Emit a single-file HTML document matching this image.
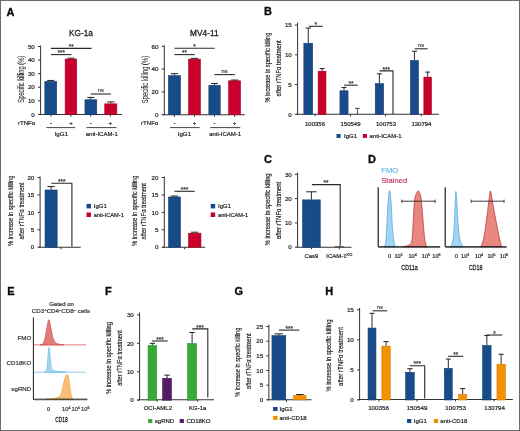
<!DOCTYPE html>
<html><head><meta charset="utf-8"><style>
html,body{margin:0;padding:0;background:#fff;}
body{width:520px;height:431px;overflow:hidden;}
svg{display:block;will-change:transform;filter:blur(0.3px);}
text{-webkit-font-smoothing:antialiased;}
</style></head><body>
<svg width="520" height="431" viewBox="0 0 520 431">
<rect x="0" y="0" width="520" height="431" fill="#fff"/>
<text x="6.40" y="15.80" font-size="11" text-anchor="start" fill="#0a0a0a" font-weight="bold" font-family="Liberation Sans, sans-serif"  stroke="#0a0a0a" stroke-width="0.3">A</text>
<text x="263.90" y="15.40" font-size="11" text-anchor="start" fill="#0a0a0a" font-weight="bold" font-family="Liberation Sans, sans-serif"  stroke="#0a0a0a" stroke-width="0.3">B</text>
<text x="263.90" y="163.20" font-size="11" text-anchor="start" fill="#0a0a0a" font-weight="bold" font-family="Liberation Sans, sans-serif"  stroke="#0a0a0a" stroke-width="0.3">C</text>
<text x="367.90" y="163.20" font-size="11" text-anchor="start" fill="#0a0a0a" font-weight="bold" font-family="Liberation Sans, sans-serif"  stroke="#0a0a0a" stroke-width="0.3">D</text>
<text x="7.20" y="294.90" font-size="11" text-anchor="start" fill="#0a0a0a" font-weight="bold" font-family="Liberation Sans, sans-serif"  stroke="#0a0a0a" stroke-width="0.3">E</text>
<text x="105.00" y="294.90" font-size="11" text-anchor="start" fill="#0a0a0a" font-weight="bold" font-family="Liberation Sans, sans-serif"  stroke="#0a0a0a" stroke-width="0.3">F</text>
<text x="234.50" y="294.90" font-size="11" text-anchor="start" fill="#0a0a0a" font-weight="bold" font-family="Liberation Sans, sans-serif"  stroke="#0a0a0a" stroke-width="0.3">G</text>
<text x="325.20" y="294.90" font-size="11" text-anchor="start" fill="#0a0a0a" font-weight="bold" font-family="Liberation Sans, sans-serif"  stroke="#0a0a0a" stroke-width="0.3">H</text>
<text x="81.00" y="36.00" font-size="8.3" text-anchor="middle" fill="#1e1e1e" font-weight="normal" font-family="Liberation Sans, sans-serif" stroke="#1e1e1e" stroke-width="0.3" >KG-1a</text>
<line x1="40.60" y1="45.50" x2="40.60" y2="114.40" stroke="#333333" stroke-width="1.0"/>
<line x1="38.00" y1="114.40" x2="40.60" y2="114.40" stroke="#333333" stroke-width="1.0"/>
<text x="34.80" y="116.63" font-size="6.2" text-anchor="end" fill="#1e1e1e" font-weight="normal" font-family="Liberation Sans, sans-serif" stroke="#1e1e1e" stroke-width="0.2" >0</text>
<line x1="38.00" y1="100.82" x2="40.60" y2="100.82" stroke="#333333" stroke-width="1.0"/>
<text x="34.80" y="103.05" font-size="6.2" text-anchor="end" fill="#1e1e1e" font-weight="normal" font-family="Liberation Sans, sans-serif" stroke="#1e1e1e" stroke-width="0.2" >10</text>
<line x1="38.00" y1="87.24" x2="40.60" y2="87.24" stroke="#333333" stroke-width="1.0"/>
<text x="34.80" y="89.47" font-size="6.2" text-anchor="end" fill="#1e1e1e" font-weight="normal" font-family="Liberation Sans, sans-serif" stroke="#1e1e1e" stroke-width="0.2" >20</text>
<line x1="38.00" y1="73.66" x2="40.60" y2="73.66" stroke="#333333" stroke-width="1.0"/>
<text x="34.80" y="75.89" font-size="6.2" text-anchor="end" fill="#1e1e1e" font-weight="normal" font-family="Liberation Sans, sans-serif" stroke="#1e1e1e" stroke-width="0.2" >30</text>
<line x1="38.00" y1="60.08" x2="40.60" y2="60.08" stroke="#333333" stroke-width="1.0"/>
<text x="34.80" y="62.31" font-size="6.2" text-anchor="end" fill="#1e1e1e" font-weight="normal" font-family="Liberation Sans, sans-serif" stroke="#1e1e1e" stroke-width="0.2" >40</text>
<line x1="38.00" y1="46.50" x2="40.60" y2="46.50" stroke="#333333" stroke-width="1.0"/>
<text x="34.80" y="48.73" font-size="6.2" text-anchor="end" fill="#1e1e1e" font-weight="normal" font-family="Liberation Sans, sans-serif" stroke="#1e1e1e" stroke-width="0.2" >50</text>
<line x1="38.80" y1="114.40" x2="122.00" y2="114.40" stroke="#333333" stroke-width="1.05"/>
<line x1="50.90" y1="114.40" x2="50.90" y2="116.40" stroke="#333333" stroke-width="1.05"/>
<line x1="70.90" y1="114.40" x2="70.90" y2="116.40" stroke="#333333" stroke-width="1.05"/>
<line x1="90.70" y1="114.40" x2="90.70" y2="116.40" stroke="#333333" stroke-width="1.05"/>
<line x1="110.30" y1="114.40" x2="110.30" y2="116.40" stroke="#333333" stroke-width="1.05"/>
<rect x="44.85" y="81.43" width="11.80" height="32.97" fill="#174b8a" stroke="#123d70" stroke-width="0.6"/>
<line x1="50.75" y1="81.13" x2="50.75" y2="80.45" stroke="#222" stroke-width="0.95"/>
<line x1="47.19" y1="80.45" x2="54.31" y2="80.45" stroke="#222" stroke-width="1.0"/>
<rect x="65.15" y="59.02" width="11.60" height="55.38" fill="#c9002b" stroke="#a80024" stroke-width="0.6"/>
<line x1="70.95" y1="58.72" x2="70.95" y2="58.18" stroke="#222" stroke-width="0.95"/>
<line x1="67.45" y1="58.18" x2="74.45" y2="58.18" stroke="#222" stroke-width="1.0"/>
<rect x="84.95" y="99.76" width="11.80" height="14.64" fill="#174b8a" stroke="#123d70" stroke-width="0.6"/>
<line x1="90.85" y1="99.46" x2="90.85" y2="97.43" stroke="#222" stroke-width="0.95"/>
<line x1="87.29" y1="97.43" x2="94.41" y2="97.43" stroke="#222" stroke-width="1.0"/>
<rect x="104.75" y="103.84" width="12.10" height="10.56" fill="#c9002b" stroke="#a80024" stroke-width="0.6"/>
<line x1="110.80" y1="103.54" x2="110.80" y2="101.91" stroke="#222" stroke-width="0.95"/>
<line x1="107.16" y1="101.91" x2="114.44" y2="101.91" stroke="#222" stroke-width="1.0"/>
<line x1="50.90" y1="48.40" x2="91.50" y2="48.40" stroke="#2a2a2a" stroke-width="1.1"/>
<text x="71.20" y="49.10" font-size="6.4" text-anchor="middle" fill="#333" font-weight="normal" font-family="Liberation Sans, sans-serif" stroke="#333" stroke-width="0.2" >**</text>
<line x1="50.90" y1="54.60" x2="71.40" y2="54.60" stroke="#2a2a2a" stroke-width="1.1"/>
<text x="61.15" y="55.30" font-size="6.4" text-anchor="middle" fill="#333" font-weight="normal" font-family="Liberation Sans, sans-serif" stroke="#333" stroke-width="0.2" >***</text>
<line x1="90.70" y1="94.00" x2="111.00" y2="94.00" stroke="#2a2a2a" stroke-width="1.1"/>
<text x="100.85" y="92.30" font-size="5.9" text-anchor="middle" fill="#444" font-weight="normal" font-family="Liberation Sans, sans-serif" stroke="#444" stroke-width="0.2" >ns</text>
<g transform="translate(21.30,79.20) rotate(-90) scale(1.0,1)"><text x="0" y="3.06" font-size="8.5" text-anchor="middle" fill="#1e1e1e" font-family="Liberation Sans, sans-serif" stroke="#1e1e1e" stroke-width="0.06" textLength="47" lengthAdjust="spacingAndGlyphs">Specific killing (%)</text></g>
<text x="35.30" y="125.40" font-size="6.1" text-anchor="end" fill="#1e1e1e" font-weight="normal" font-family="Liberation Sans, sans-serif" stroke="#1e1e1e" stroke-width="0.2" >rTNF&#945;</text>
<text x="50.90" y="125.20" font-size="6" text-anchor="middle" fill="#1e1e1e" font-weight="normal" font-family="Liberation Sans, sans-serif" stroke="#1e1e1e" stroke-width="0.2" >-</text>
<text x="70.90" y="125.20" font-size="6" text-anchor="middle" fill="#1e1e1e" font-weight="normal" font-family="Liberation Sans, sans-serif" stroke="#1e1e1e" stroke-width="0.2" >+</text>
<text x="90.70" y="125.20" font-size="6" text-anchor="middle" fill="#1e1e1e" font-weight="normal" font-family="Liberation Sans, sans-serif" stroke="#1e1e1e" stroke-width="0.2" >-</text>
<text x="110.30" y="125.20" font-size="6" text-anchor="middle" fill="#1e1e1e" font-weight="normal" font-family="Liberation Sans, sans-serif" stroke="#1e1e1e" stroke-width="0.2" >+</text>
<line x1="46.40" y1="127.60" x2="75.20" y2="127.60" stroke="#444" stroke-width="1.0"/>
<line x1="86.50" y1="127.60" x2="116.50" y2="127.60" stroke="#444" stroke-width="1.0"/>
<text x="61.20" y="136.00" font-size="6.2" text-anchor="middle" fill="#1e1e1e" font-weight="normal" font-family="Liberation Sans, sans-serif" stroke="#1e1e1e" stroke-width="0.2" >IgG1</text>
<text x="101.80" y="136.00" font-size="6.0" text-anchor="middle" fill="#1e1e1e" font-weight="normal" font-family="Liberation Sans, sans-serif" stroke="#1e1e1e" stroke-width="0.2" >anti-ICAM-1</text>
<text x="204.30" y="36.00" font-size="8.3" text-anchor="middle" fill="#1e1e1e" font-weight="normal" font-family="Liberation Sans, sans-serif" stroke="#1e1e1e" stroke-width="0.3" >MV4-11</text>
<line x1="164.30" y1="45.50" x2="164.30" y2="114.70" stroke="#333333" stroke-width="1.0"/>
<line x1="161.70" y1="114.70" x2="164.30" y2="114.70" stroke="#333333" stroke-width="1.0"/>
<text x="158.50" y="116.93" font-size="6.2" text-anchor="end" fill="#1e1e1e" font-weight="normal" font-family="Liberation Sans, sans-serif" stroke="#1e1e1e" stroke-width="0.2" >0</text>
<line x1="161.70" y1="91.90" x2="164.30" y2="91.90" stroke="#333333" stroke-width="1.0"/>
<text x="158.50" y="94.13" font-size="6.2" text-anchor="end" fill="#1e1e1e" font-weight="normal" font-family="Liberation Sans, sans-serif" stroke="#1e1e1e" stroke-width="0.2" >20</text>
<line x1="161.70" y1="69.10" x2="164.30" y2="69.10" stroke="#333333" stroke-width="1.0"/>
<text x="158.50" y="71.33" font-size="6.2" text-anchor="end" fill="#1e1e1e" font-weight="normal" font-family="Liberation Sans, sans-serif" stroke="#1e1e1e" stroke-width="0.2" >40</text>
<line x1="161.70" y1="46.30" x2="164.30" y2="46.30" stroke="#333333" stroke-width="1.0"/>
<text x="158.50" y="48.53" font-size="6.2" text-anchor="end" fill="#1e1e1e" font-weight="normal" font-family="Liberation Sans, sans-serif" stroke="#1e1e1e" stroke-width="0.2" >60</text>
<line x1="162.60" y1="114.70" x2="244.80" y2="114.70" stroke="#333333" stroke-width="1.05"/>
<line x1="174.40" y1="114.70" x2="174.40" y2="116.70" stroke="#333333" stroke-width="1.05"/>
<line x1="194.50" y1="114.70" x2="194.50" y2="116.70" stroke="#333333" stroke-width="1.05"/>
<line x1="214.50" y1="114.70" x2="214.50" y2="116.70" stroke="#333333" stroke-width="1.05"/>
<line x1="234.60" y1="114.70" x2="234.60" y2="116.70" stroke="#333333" stroke-width="1.05"/>
<rect x="168.45" y="75.67" width="12.00" height="39.03" fill="#174b8a" stroke="#123d70" stroke-width="0.6"/>
<line x1="174.45" y1="75.37" x2="174.45" y2="73.66" stroke="#222" stroke-width="0.95"/>
<line x1="170.84" y1="73.66" x2="178.06" y2="73.66" stroke="#222" stroke-width="1.0"/>
<rect x="188.55" y="59.14" width="11.90" height="55.56" fill="#c9002b" stroke="#a80024" stroke-width="0.6"/>
<line x1="194.50" y1="58.84" x2="194.50" y2="58.38" stroke="#222" stroke-width="0.95"/>
<line x1="190.92" y1="58.38" x2="198.08" y2="58.38" stroke="#222" stroke-width="1.0"/>
<rect x="208.85" y="85.36" width="11.40" height="29.34" fill="#174b8a" stroke="#123d70" stroke-width="0.6"/>
<line x1="214.55" y1="85.06" x2="214.55" y2="83.46" stroke="#222" stroke-width="0.95"/>
<line x1="211.11" y1="83.46" x2="217.99" y2="83.46" stroke="#222" stroke-width="1.0"/>
<rect x="228.65" y="80.80" width="11.90" height="33.90" fill="#c9002b" stroke="#a80024" stroke-width="0.6"/>
<line x1="234.60" y1="80.50" x2="234.60" y2="80.04" stroke="#222" stroke-width="0.95"/>
<line x1="231.02" y1="80.04" x2="238.18" y2="80.04" stroke="#222" stroke-width="1.0"/>
<line x1="174.40" y1="48.30" x2="214.70" y2="48.30" stroke="#2a2a2a" stroke-width="1.1"/>
<text x="194.55" y="49.00" font-size="6.4" text-anchor="middle" fill="#333" font-weight="normal" font-family="Liberation Sans, sans-serif" stroke="#333" stroke-width="0.2" >*</text>
<line x1="174.40" y1="54.60" x2="194.70" y2="54.60" stroke="#2a2a2a" stroke-width="1.1"/>
<text x="184.55" y="55.30" font-size="6.4" text-anchor="middle" fill="#333" font-weight="normal" font-family="Liberation Sans, sans-serif" stroke="#333" stroke-width="0.2" >**</text>
<line x1="214.50" y1="74.60" x2="234.80" y2="74.60" stroke="#2a2a2a" stroke-width="1.1"/>
<text x="224.65" y="72.90" font-size="5.9" text-anchor="middle" fill="#444" font-weight="normal" font-family="Liberation Sans, sans-serif" stroke="#444" stroke-width="0.2" >ns</text>
<g transform="translate(144.50,79.50) rotate(-90) scale(1.0,1)"><text x="0" y="3.06" font-size="8.5" text-anchor="middle" fill="#1e1e1e" font-family="Liberation Sans, sans-serif" stroke="#1e1e1e" stroke-width="0.06" textLength="47.3" lengthAdjust="spacingAndGlyphs">Specific killing (%)</text></g>
<text x="158.40" y="125.40" font-size="6.1" text-anchor="end" fill="#1e1e1e" font-weight="normal" font-family="Liberation Sans, sans-serif" stroke="#1e1e1e" stroke-width="0.2" >rTNF&#945;</text>
<text x="174.40" y="125.20" font-size="6" text-anchor="middle" fill="#1e1e1e" font-weight="normal" font-family="Liberation Sans, sans-serif" stroke="#1e1e1e" stroke-width="0.2" >-</text>
<text x="194.50" y="125.20" font-size="6" text-anchor="middle" fill="#1e1e1e" font-weight="normal" font-family="Liberation Sans, sans-serif" stroke="#1e1e1e" stroke-width="0.2" >+</text>
<text x="214.50" y="125.20" font-size="6" text-anchor="middle" fill="#1e1e1e" font-weight="normal" font-family="Liberation Sans, sans-serif" stroke="#1e1e1e" stroke-width="0.2" >-</text>
<text x="234.60" y="125.20" font-size="6" text-anchor="middle" fill="#1e1e1e" font-weight="normal" font-family="Liberation Sans, sans-serif" stroke="#1e1e1e" stroke-width="0.2" >+</text>
<line x1="170.00" y1="127.60" x2="199.70" y2="127.60" stroke="#444" stroke-width="1.0"/>
<line x1="210.20" y1="127.60" x2="240.30" y2="127.60" stroke="#444" stroke-width="1.0"/>
<text x="184.40" y="136.00" font-size="6.2" text-anchor="middle" fill="#1e1e1e" font-weight="normal" font-family="Liberation Sans, sans-serif" stroke="#1e1e1e" stroke-width="0.2" >IgG1</text>
<text x="225.20" y="136.00" font-size="6.0" text-anchor="middle" fill="#1e1e1e" font-weight="normal" font-family="Liberation Sans, sans-serif" stroke="#1e1e1e" stroke-width="0.2" >anti-ICAM-1</text>
<line x1="40.10" y1="176.50" x2="40.10" y2="247.20" stroke="#333333" stroke-width="1.0"/>
<line x1="37.50" y1="247.20" x2="40.10" y2="247.20" stroke="#333333" stroke-width="1.0"/>
<text x="34.30" y="249.43" font-size="6.2" text-anchor="end" fill="#1e1e1e" font-weight="normal" font-family="Liberation Sans, sans-serif" stroke="#1e1e1e" stroke-width="0.2" >0</text>
<line x1="37.50" y1="229.77" x2="40.10" y2="229.77" stroke="#333333" stroke-width="1.0"/>
<text x="34.30" y="232.01" font-size="6.2" text-anchor="end" fill="#1e1e1e" font-weight="normal" font-family="Liberation Sans, sans-serif" stroke="#1e1e1e" stroke-width="0.2" >5</text>
<line x1="37.50" y1="212.35" x2="40.10" y2="212.35" stroke="#333333" stroke-width="1.0"/>
<text x="34.30" y="214.58" font-size="6.2" text-anchor="end" fill="#1e1e1e" font-weight="normal" font-family="Liberation Sans, sans-serif" stroke="#1e1e1e" stroke-width="0.2" >10</text>
<line x1="37.50" y1="194.92" x2="40.10" y2="194.92" stroke="#333333" stroke-width="1.0"/>
<text x="34.30" y="197.16" font-size="6.2" text-anchor="end" fill="#1e1e1e" font-weight="normal" font-family="Liberation Sans, sans-serif" stroke="#1e1e1e" stroke-width="0.2" >15</text>
<line x1="37.50" y1="177.50" x2="40.10" y2="177.50" stroke="#333333" stroke-width="1.0"/>
<text x="34.30" y="179.73" font-size="6.2" text-anchor="end" fill="#1e1e1e" font-weight="normal" font-family="Liberation Sans, sans-serif" stroke="#1e1e1e" stroke-width="0.2" >20</text>
<line x1="38.80" y1="247.20" x2="80.70" y2="247.20" stroke="#333333" stroke-width="1.05"/>
<line x1="61.00" y1="247.20" x2="61.00" y2="249.20" stroke="#333333" stroke-width="1.05"/>
<rect x="45.05" y="190.00" width="12.10" height="57.20" fill="#174b8a" stroke="#123d70" stroke-width="0.6"/>
<line x1="51.10" y1="189.70" x2="51.10" y2="186.56" stroke="#222" stroke-width="0.95"/>
<line x1="47.46" y1="186.56" x2="54.74" y2="186.56" stroke="#222" stroke-width="1.0"/>
<polyline points="51.40,183.30 71.90,183.30 71.90,246.50" fill="none" stroke="#2a2a2a" stroke-width="1.1"/>
<text x="61.65" y="184.00" font-size="6.4" text-anchor="middle" fill="#333" font-weight="normal" font-family="Liberation Sans, sans-serif" stroke="#333" stroke-width="0.2" >***</text>
<rect x="86.50" y="203.90" width="4.50" height="4.50" fill="#174b8a"/>
<text x="93.80" y="208.30" font-size="6" text-anchor="start" fill="#1e1e1e" font-weight="normal" font-family="Liberation Sans, sans-serif" stroke="#1e1e1e" stroke-width="0.2" >IgG1</text>
<rect x="86.50" y="212.50" width="4.50" height="4.50" fill="#c9002b"/>
<text x="93.80" y="216.90" font-size="5.64" text-anchor="start" fill="#1e1e1e" font-weight="normal" font-family="Liberation Sans, sans-serif" stroke="#1e1e1e" stroke-width="0.2" >anti-ICAM-1</text>
<g transform="translate(9.90,210.80) rotate(-90) scale(1.0,1)"><text x="0" y="2.84" font-size="7.9" text-anchor="middle" fill="#1e1e1e" font-family="Liberation Sans, sans-serif" stroke="#1e1e1e" stroke-width="0.18" textLength="70.4" lengthAdjust="spacingAndGlyphs">% increase in specific killing</text></g>
<g transform="translate(21.20,211.10) rotate(-90) scale(1.0,1)"><text x="0" y="2.84" font-size="7.9" text-anchor="middle" fill="#1e1e1e" font-family="Liberation Sans, sans-serif" stroke="#1e1e1e" stroke-width="0.18" textLength="57" lengthAdjust="spacingAndGlyphs">after rTNF&#945; treatment</text></g>
<line x1="164.30" y1="176.50" x2="164.30" y2="247.20" stroke="#333333" stroke-width="1.0"/>
<line x1="161.70" y1="247.20" x2="164.30" y2="247.20" stroke="#333333" stroke-width="1.0"/>
<text x="158.50" y="249.43" font-size="6.2" text-anchor="end" fill="#1e1e1e" font-weight="normal" font-family="Liberation Sans, sans-serif" stroke="#1e1e1e" stroke-width="0.2" >0</text>
<line x1="161.70" y1="229.77" x2="164.30" y2="229.77" stroke="#333333" stroke-width="1.0"/>
<text x="158.50" y="232.01" font-size="6.2" text-anchor="end" fill="#1e1e1e" font-weight="normal" font-family="Liberation Sans, sans-serif" stroke="#1e1e1e" stroke-width="0.2" >5</text>
<line x1="161.70" y1="212.35" x2="164.30" y2="212.35" stroke="#333333" stroke-width="1.0"/>
<text x="158.50" y="214.58" font-size="6.2" text-anchor="end" fill="#1e1e1e" font-weight="normal" font-family="Liberation Sans, sans-serif" stroke="#1e1e1e" stroke-width="0.2" >10</text>
<line x1="161.70" y1="194.92" x2="164.30" y2="194.92" stroke="#333333" stroke-width="1.0"/>
<text x="158.50" y="197.16" font-size="6.2" text-anchor="end" fill="#1e1e1e" font-weight="normal" font-family="Liberation Sans, sans-serif" stroke="#1e1e1e" stroke-width="0.2" >15</text>
<line x1="161.70" y1="177.50" x2="164.30" y2="177.50" stroke="#333333" stroke-width="1.0"/>
<text x="158.50" y="179.73" font-size="6.2" text-anchor="end" fill="#1e1e1e" font-weight="normal" font-family="Liberation Sans, sans-serif" stroke="#1e1e1e" stroke-width="0.2" >20</text>
<line x1="162.60" y1="247.20" x2="205.20" y2="247.20" stroke="#333333" stroke-width="1.05"/>
<line x1="184.60" y1="247.20" x2="184.60" y2="249.20" stroke="#333333" stroke-width="1.05"/>
<rect x="168.55" y="196.97" width="11.90" height="50.23" fill="#174b8a" stroke="#123d70" stroke-width="0.6"/>
<line x1="174.50" y1="196.67" x2="174.50" y2="195.97" stroke="#222" stroke-width="0.95"/>
<line x1="170.92" y1="195.97" x2="178.08" y2="195.97" stroke="#222" stroke-width="1.0"/>
<rect x="188.55" y="233.21" width="12.40" height="13.99" fill="#c9002b" stroke="#a80024" stroke-width="0.6"/>
<line x1="194.75" y1="232.91" x2="194.75" y2="232.21" stroke="#222" stroke-width="0.95"/>
<line x1="191.03" y1="232.21" x2="198.47" y2="232.21" stroke="#222" stroke-width="1.0"/>
<line x1="174.40" y1="191.30" x2="194.70" y2="191.30" stroke="#2a2a2a" stroke-width="1.1"/>
<text x="184.55" y="192.00" font-size="6.4" text-anchor="middle" fill="#333" font-weight="normal" font-family="Liberation Sans, sans-serif" stroke="#333" stroke-width="0.2" >***</text>
<rect x="210.70" y="203.90" width="4.50" height="4.50" fill="#174b8a"/>
<text x="218.00" y="208.30" font-size="6" text-anchor="start" fill="#1e1e1e" font-weight="normal" font-family="Liberation Sans, sans-serif" stroke="#1e1e1e" stroke-width="0.2" >IgG1</text>
<rect x="210.70" y="212.50" width="4.50" height="4.50" fill="#c9002b"/>
<text x="218.00" y="216.90" font-size="5.64" text-anchor="start" fill="#1e1e1e" font-weight="normal" font-family="Liberation Sans, sans-serif" stroke="#1e1e1e" stroke-width="0.2" >anti-ICAM-1</text>
<g transform="translate(134.10,210.80) rotate(-90) scale(1.0,1)"><text x="0" y="2.84" font-size="7.9" text-anchor="middle" fill="#1e1e1e" font-family="Liberation Sans, sans-serif" stroke="#1e1e1e" stroke-width="0.18" textLength="70.4" lengthAdjust="spacingAndGlyphs">% increase in specific killing</text></g>
<g transform="translate(143.60,211.30) rotate(-90) scale(1.0,1)"><text x="0" y="2.84" font-size="7.9" text-anchor="middle" fill="#1e1e1e" font-family="Liberation Sans, sans-serif" stroke="#1e1e1e" stroke-width="0.18" textLength="56.6" lengthAdjust="spacingAndGlyphs">after rTNF&#945; treatment</text></g>
<line x1="297.60" y1="22.60" x2="297.60" y2="114.30" stroke="#333333" stroke-width="1.0"/>
<line x1="295.00" y1="114.30" x2="297.60" y2="114.30" stroke="#333333" stroke-width="1.0"/>
<text x="291.80" y="116.53" font-size="6.2" text-anchor="end" fill="#1e1e1e" font-weight="normal" font-family="Liberation Sans, sans-serif" stroke="#1e1e1e" stroke-width="0.2" >0</text>
<line x1="295.00" y1="84.56" x2="297.60" y2="84.56" stroke="#333333" stroke-width="1.0"/>
<text x="291.80" y="86.80" font-size="6.2" text-anchor="end" fill="#1e1e1e" font-weight="normal" font-family="Liberation Sans, sans-serif" stroke="#1e1e1e" stroke-width="0.2" >5</text>
<line x1="295.00" y1="54.83" x2="297.60" y2="54.83" stroke="#333333" stroke-width="1.0"/>
<text x="291.80" y="57.06" font-size="6.2" text-anchor="end" fill="#1e1e1e" font-weight="normal" font-family="Liberation Sans, sans-serif" stroke="#1e1e1e" stroke-width="0.2" >10</text>
<line x1="295.00" y1="25.09" x2="297.60" y2="25.09" stroke="#333333" stroke-width="1.0"/>
<text x="291.80" y="27.33" font-size="6.2" text-anchor="end" fill="#1e1e1e" font-weight="normal" font-family="Liberation Sans, sans-serif" stroke="#1e1e1e" stroke-width="0.2" >15</text>
<line x1="296.00" y1="114.30" x2="438.90" y2="114.30" stroke="#333333" stroke-width="1.05"/>
<line x1="315.00" y1="114.30" x2="315.00" y2="116.30" stroke="#333333" stroke-width="1.05"/>
<line x1="350.50" y1="114.30" x2="350.50" y2="116.30" stroke="#333333" stroke-width="1.05"/>
<line x1="385.50" y1="114.30" x2="385.50" y2="116.30" stroke="#333333" stroke-width="1.05"/>
<line x1="421.40" y1="114.30" x2="421.40" y2="116.30" stroke="#333333" stroke-width="1.05"/>
<rect x="303.85" y="43.24" width="8.80" height="71.06" fill="#174b8a" stroke="#123d70" stroke-width="0.6"/>
<line x1="308.25" y1="42.94" x2="308.25" y2="28.07" stroke="#222" stroke-width="0.95"/>
<line x1="305.53" y1="28.07" x2="310.97" y2="28.07" stroke="#222" stroke-width="1.0"/>
<rect x="318.15" y="71.19" width="7.80" height="43.11" fill="#c9002b" stroke="#a80024" stroke-width="0.6"/>
<line x1="322.05" y1="70.89" x2="322.05" y2="68.51" stroke="#222" stroke-width="0.95"/>
<line x1="319.61" y1="68.51" x2="324.49" y2="68.51" stroke="#222" stroke-width="1.0"/>
<rect x="339.95" y="90.81" width="8.10" height="23.49" fill="#174b8a" stroke="#123d70" stroke-width="0.6"/>
<line x1="344.00" y1="90.51" x2="344.00" y2="87.54" stroke="#222" stroke-width="0.95"/>
<line x1="341.48" y1="87.54" x2="346.52" y2="87.54" stroke="#222" stroke-width="1.0"/>
<line x1="357.40" y1="114.30" x2="357.40" y2="108.35" stroke="#222" stroke-width="0.8"/>
<line x1="355.00" y1="108.35" x2="359.80" y2="108.35" stroke="#222" stroke-width="0.8"/>
<rect x="375.25" y="83.68" width="8.30" height="30.62" fill="#174b8a" stroke="#123d70" stroke-width="0.6"/>
<line x1="379.40" y1="83.38" x2="379.40" y2="73.86" stroke="#222" stroke-width="0.95"/>
<line x1="376.82" y1="73.86" x2="381.98" y2="73.86" stroke="#222" stroke-width="1.0"/>
<rect x="410.45" y="60.48" width="8.00" height="53.82" fill="#174b8a" stroke="#123d70" stroke-width="0.6"/>
<line x1="414.45" y1="60.18" x2="414.45" y2="51.26" stroke="#222" stroke-width="0.95"/>
<line x1="411.96" y1="51.26" x2="416.94" y2="51.26" stroke="#222" stroke-width="1.0"/>
<rect x="423.85" y="77.13" width="7.60" height="37.17" fill="#c9002b" stroke="#a80024" stroke-width="0.6"/>
<line x1="427.65" y1="76.83" x2="427.65" y2="72.08" stroke="#222" stroke-width="0.95"/>
<line x1="425.27" y1="72.08" x2="430.03" y2="72.08" stroke="#222" stroke-width="1.0"/>
<line x1="308.90" y1="26.30" x2="322.70" y2="26.30" stroke="#2a2a2a" stroke-width="1.1"/>
<text x="315.80" y="27.00" font-size="6.4" text-anchor="middle" fill="#333" font-weight="normal" font-family="Liberation Sans, sans-serif" stroke="#333" stroke-width="0.2" >*</text>
<line x1="344.00" y1="85.20" x2="357.80" y2="85.20" stroke="#2a2a2a" stroke-width="1.1"/>
<text x="350.90" y="85.90" font-size="6.4" text-anchor="middle" fill="#333" font-weight="normal" font-family="Liberation Sans, sans-serif" stroke="#333" stroke-width="0.2" >**</text>
<polyline points="379.50,70.90 393.00,70.90 393.00,114.00" fill="none" stroke="#2a2a2a" stroke-width="1.1"/>
<text x="386.25" y="71.60" font-size="6.4" text-anchor="middle" fill="#333" font-weight="normal" font-family="Liberation Sans, sans-serif" stroke="#333" stroke-width="0.2" >***</text>
<line x1="414.60" y1="48.80" x2="427.60" y2="48.80" stroke="#2a2a2a" stroke-width="1.1"/>
<text x="421.10" y="47.10" font-size="5.9" text-anchor="middle" fill="#444" font-weight="normal" font-family="Liberation Sans, sans-serif" stroke="#444" stroke-width="0.2" >ns</text>
<text x="315.00" y="126.00" font-size="6" text-anchor="middle" fill="#1e1e1e" font-weight="normal" font-family="Liberation Sans, sans-serif" stroke="#1e1e1e" stroke-width="0.2" >100356</text>
<text x="350.50" y="126.00" font-size="6" text-anchor="middle" fill="#1e1e1e" font-weight="normal" font-family="Liberation Sans, sans-serif" stroke="#1e1e1e" stroke-width="0.2" >150549</text>
<text x="386.00" y="126.00" font-size="6" text-anchor="middle" fill="#1e1e1e" font-weight="normal" font-family="Liberation Sans, sans-serif" stroke="#1e1e1e" stroke-width="0.2" >100753</text>
<text x="421.40" y="126.00" font-size="6" text-anchor="middle" fill="#1e1e1e" font-weight="normal" font-family="Liberation Sans, sans-serif" stroke="#1e1e1e" stroke-width="0.2" >130794</text>
<rect x="336.50" y="134.00" width="4.20" height="3.90" fill="#174b8a"/>
<text x="344.00" y="138.20" font-size="6" text-anchor="start" fill="#1e1e1e" font-weight="normal" font-family="Liberation Sans, sans-serif" stroke="#1e1e1e" stroke-width="0.2" >IgG1</text>
<rect x="362.80" y="134.00" width="4.20" height="3.90" fill="#c9002b"/>
<text x="369.50" y="138.20" font-size="6" text-anchor="start" fill="#1e1e1e" font-weight="normal" font-family="Liberation Sans, sans-serif" stroke="#1e1e1e" stroke-width="0.2" >anti-ICAM-1</text>
<g transform="translate(268.00,67.60) rotate(-90) scale(1.0,1)"><text x="0" y="2.34" font-size="6.5" text-anchor="middle" fill="#1e1e1e" font-family="Liberation Sans, sans-serif" stroke="#1e1e1e" stroke-width="0.18" textLength="70" lengthAdjust="spacingAndGlyphs">% increase in specific killing</text></g>
<g transform="translate(278.20,68.40) rotate(-90) scale(1.0,1)"><text x="0" y="2.34" font-size="6.5" text-anchor="middle" fill="#1e1e1e" font-family="Liberation Sans, sans-serif" stroke="#1e1e1e" stroke-width="0.18" textLength="56" lengthAdjust="spacingAndGlyphs">after rTNF&#945; treatment</text></g>
<line x1="297.60" y1="172.60" x2="297.60" y2="247.20" stroke="#333333" stroke-width="1.0"/>
<line x1="295.00" y1="247.20" x2="297.60" y2="247.20" stroke="#333333" stroke-width="1.0"/>
<text x="291.80" y="249.43" font-size="6.2" text-anchor="end" fill="#1e1e1e" font-weight="normal" font-family="Liberation Sans, sans-serif" stroke="#1e1e1e" stroke-width="0.2" >0</text>
<line x1="295.00" y1="222.90" x2="297.60" y2="222.90" stroke="#333333" stroke-width="1.0"/>
<text x="291.80" y="225.13" font-size="6.2" text-anchor="end" fill="#1e1e1e" font-weight="normal" font-family="Liberation Sans, sans-serif" stroke="#1e1e1e" stroke-width="0.2" >10</text>
<line x1="295.00" y1="198.60" x2="297.60" y2="198.60" stroke="#333333" stroke-width="1.0"/>
<text x="291.80" y="200.83" font-size="6.2" text-anchor="end" fill="#1e1e1e" font-weight="normal" font-family="Liberation Sans, sans-serif" stroke="#1e1e1e" stroke-width="0.2" >20</text>
<line x1="295.00" y1="174.30" x2="297.60" y2="174.30" stroke="#333333" stroke-width="1.0"/>
<text x="291.80" y="176.53" font-size="6.2" text-anchor="end" fill="#1e1e1e" font-weight="normal" font-family="Liberation Sans, sans-serif" stroke="#1e1e1e" stroke-width="0.2" >30</text>
<line x1="296.40" y1="247.20" x2="351.50" y2="247.20" stroke="#333333" stroke-width="1.05"/>
<line x1="311.40" y1="247.20" x2="311.40" y2="249.20" stroke="#333333" stroke-width="1.05"/>
<line x1="339.30" y1="247.20" x2="339.30" y2="249.20" stroke="#333333" stroke-width="1.05"/>
<rect x="302.55" y="199.87" width="17.70" height="47.33" fill="#174b8a" stroke="#123d70" stroke-width="0.6"/>
<line x1="311.40" y1="199.57" x2="311.40" y2="191.80" stroke="#222" stroke-width="0.95"/>
<line x1="306.19" y1="191.80" x2="316.61" y2="191.80" stroke="#222" stroke-width="1.0"/>
<rect x="334.70" y="246.40" width="9.30" height="0.80" fill="#222"/>
<polyline points="311.90,184.60 340.20,184.60 340.20,246.00" fill="none" stroke="#2a2a2a" stroke-width="1.1"/>
<text x="326.05" y="185.30" font-size="6.4" text-anchor="middle" fill="#333" font-weight="normal" font-family="Liberation Sans, sans-serif" stroke="#333" stroke-width="0.2" >**</text>
<text x="311.40" y="258.00" font-size="6" text-anchor="middle" fill="#1e1e1e" font-weight="normal" font-family="Liberation Sans, sans-serif" stroke="#1e1e1e" stroke-width="0.2" >Cas9</text>
<text x="339.30" y="258.00" font-size="6" text-anchor="middle" fill="#1e1e1e" font-weight="normal" font-family="Liberation Sans, sans-serif" stroke="#1e1e1e" stroke-width="0.2" >ICAM-1<tspan font-size="4" dy="-2.5">KO</tspan></text>
<g transform="translate(268.00,209.40) rotate(-90) scale(1.0,1)"><text x="0" y="2.34" font-size="6.5" text-anchor="middle" fill="#1e1e1e" font-family="Liberation Sans, sans-serif" stroke="#1e1e1e" stroke-width="0.18" textLength="72" lengthAdjust="spacingAndGlyphs">% increase in specific killing</text></g>
<g transform="translate(278.50,210.40) rotate(-90) scale(1.0,1)"><text x="0" y="2.34" font-size="6.5" text-anchor="middle" fill="#1e1e1e" font-family="Liberation Sans, sans-serif" stroke="#1e1e1e" stroke-width="0.18" textLength="57.3" lengthAdjust="spacingAndGlyphs">after rTNF&#945; treatment</text></g>
<text x="381.20" y="173.00" font-size="7.7" text-anchor="start" fill="#6fbde6" font-weight="normal" font-family="Liberation Sans, sans-serif" stroke="#6fbde6" stroke-width="0.2" >FMO</text>
<text x="381.20" y="182.90" font-size="7.7" text-anchor="start" fill="#c23d62" font-weight="normal" font-family="Liberation Sans, sans-serif" stroke="#c23d62" stroke-width="0.2" >Stained</text>
<path d="M384.20,246.80 C384.43,246.22 385.18,246.32 385.60,243.30 C386.02,240.28 386.30,235.18 386.70,228.70 C387.10,222.22 387.52,210.75 388.00,204.40 C388.48,198.05 389.07,190.60 389.60,190.60 C390.13,190.60 390.72,198.05 391.20,204.40 C391.68,210.75 392.00,222.22 392.50,228.70 C393.00,235.18 393.70,240.28 394.20,243.30 C394.70,246.32 395.28,246.22 395.50,246.80 Z" fill="#a3d5f3" stroke="#52ace0" stroke-width="0.8" stroke-linejoin="round"/>
<path d="M403.50,246.80 C404.17,246.62 406.25,246.28 407.50,245.70 C408.75,245.12 410.20,244.78 411.00,243.30 C411.80,241.82 411.92,240.58 412.30,236.80 C412.68,233.02 412.95,226.28 413.30,220.60 C413.65,214.92 414.02,206.90 414.40,202.70 C414.78,198.50 415.00,197.35 415.60,195.40 C416.20,193.45 417.33,191.45 418.00,191.00 C418.67,190.55 419.10,191.55 419.60,192.70 C420.10,193.85 420.53,194.60 421.00,197.90 C421.47,201.20 421.90,206.82 422.40,212.50 C422.90,218.18 423.52,227.00 424.00,232.00 C424.48,237.00 424.83,240.03 425.30,242.50 C425.77,244.97 426.55,246.08 426.80,246.80 Z" fill="#e8877e" stroke="#bd3c42" stroke-width="0.8" stroke-linejoin="round"/>
<line x1="378.20" y1="187.30" x2="378.20" y2="246.80" stroke="#111" stroke-width="1.15"/>
<line x1="378.20" y1="246.80" x2="440.20" y2="246.80" stroke="#111" stroke-width="1.15"/>
<line x1="379.70" y1="246.80" x2="379.70" y2="248.10" stroke="#333" stroke-width="0.45"/>
<line x1="381.30" y1="246.80" x2="381.30" y2="248.10" stroke="#333" stroke-width="0.45"/>
<line x1="382.90" y1="246.80" x2="382.90" y2="248.10" stroke="#333" stroke-width="0.45"/>
<line x1="384.50" y1="246.80" x2="384.50" y2="248.10" stroke="#333" stroke-width="0.45"/>
<line x1="386.10" y1="246.80" x2="386.10" y2="248.10" stroke="#333" stroke-width="0.45"/>
<line x1="387.70" y1="246.80" x2="387.70" y2="248.10" stroke="#333" stroke-width="0.45"/>
<line x1="389.30" y1="246.80" x2="389.30" y2="248.10" stroke="#333" stroke-width="0.45"/>
<line x1="390.90" y1="246.80" x2="390.90" y2="248.10" stroke="#333" stroke-width="0.45"/>
<line x1="392.50" y1="246.80" x2="392.50" y2="248.10" stroke="#333" stroke-width="0.45"/>
<line x1="394.10" y1="246.80" x2="394.10" y2="248.10" stroke="#333" stroke-width="0.45"/>
<line x1="395.70" y1="246.80" x2="395.70" y2="248.10" stroke="#333" stroke-width="0.45"/>
<line x1="397.30" y1="246.80" x2="397.30" y2="248.10" stroke="#333" stroke-width="0.45"/>
<line x1="398.90" y1="246.80" x2="398.90" y2="248.10" stroke="#333" stroke-width="0.45"/>
<line x1="400.50" y1="246.80" x2="400.50" y2="248.10" stroke="#333" stroke-width="0.45"/>
<line x1="402.10" y1="246.80" x2="402.10" y2="248.10" stroke="#333" stroke-width="0.45"/>
<line x1="403.70" y1="246.80" x2="403.70" y2="248.10" stroke="#333" stroke-width="0.45"/>
<line x1="405.30" y1="246.80" x2="405.30" y2="248.10" stroke="#333" stroke-width="0.45"/>
<line x1="406.90" y1="246.80" x2="406.90" y2="248.10" stroke="#333" stroke-width="0.45"/>
<line x1="408.50" y1="246.80" x2="408.50" y2="248.10" stroke="#333" stroke-width="0.45"/>
<line x1="410.10" y1="246.80" x2="410.10" y2="248.10" stroke="#333" stroke-width="0.45"/>
<line x1="411.70" y1="246.80" x2="411.70" y2="248.10" stroke="#333" stroke-width="0.45"/>
<line x1="413.30" y1="246.80" x2="413.30" y2="248.10" stroke="#333" stroke-width="0.45"/>
<line x1="414.90" y1="246.80" x2="414.90" y2="248.10" stroke="#333" stroke-width="0.45"/>
<line x1="416.50" y1="246.80" x2="416.50" y2="248.10" stroke="#333" stroke-width="0.45"/>
<line x1="418.10" y1="246.80" x2="418.10" y2="248.10" stroke="#333" stroke-width="0.45"/>
<line x1="419.70" y1="246.80" x2="419.70" y2="248.10" stroke="#333" stroke-width="0.45"/>
<line x1="421.30" y1="246.80" x2="421.30" y2="248.10" stroke="#333" stroke-width="0.45"/>
<line x1="422.90" y1="246.80" x2="422.90" y2="248.10" stroke="#333" stroke-width="0.45"/>
<line x1="424.50" y1="246.80" x2="424.50" y2="248.10" stroke="#333" stroke-width="0.45"/>
<line x1="426.10" y1="246.80" x2="426.10" y2="248.10" stroke="#333" stroke-width="0.45"/>
<line x1="427.70" y1="246.80" x2="427.70" y2="248.10" stroke="#333" stroke-width="0.45"/>
<line x1="429.30" y1="246.80" x2="429.30" y2="248.10" stroke="#333" stroke-width="0.45"/>
<line x1="430.90" y1="246.80" x2="430.90" y2="248.10" stroke="#333" stroke-width="0.45"/>
<line x1="432.50" y1="246.80" x2="432.50" y2="248.10" stroke="#333" stroke-width="0.45"/>
<line x1="434.10" y1="246.80" x2="434.10" y2="248.10" stroke="#333" stroke-width="0.45"/>
<line x1="435.70" y1="246.80" x2="435.70" y2="248.10" stroke="#333" stroke-width="0.45"/>
<line x1="437.30" y1="246.80" x2="437.30" y2="248.10" stroke="#333" stroke-width="0.45"/>
<line x1="438.90" y1="246.80" x2="438.90" y2="248.10" stroke="#333" stroke-width="0.45"/>
<line x1="401.80" y1="201.20" x2="435.10" y2="201.20" stroke="#2a2a2a" stroke-width="0.9"/>
<line x1="401.80" y1="199.60" x2="401.80" y2="202.90" stroke="#2a2a2a" stroke-width="0.9"/>
<line x1="435.10" y1="199.60" x2="435.10" y2="202.90" stroke="#2a2a2a" stroke-width="0.9"/>
<text x="389.50" y="258.00" font-size="5.6" text-anchor="middle" fill="#2a2a2a" font-weight="normal" font-family="Liberation Sans, sans-serif" stroke="#2a2a2a" stroke-width="0.2" >0</text>
<text x="398.50" y="258.00" font-size="5.6" text-anchor="middle" fill="#2a2a2a" font-weight="normal" font-family="Liberation Sans, sans-serif" stroke="#2a2a2a" stroke-width="0.2" >10<tspan font-size="3.6" dy="-2.0">3</tspan></text>
<text x="412.60" y="258.00" font-size="5.6" text-anchor="middle" fill="#2a2a2a" font-weight="normal" font-family="Liberation Sans, sans-serif" stroke="#2a2a2a" stroke-width="0.2" >10<tspan font-size="3.6" dy="-2.0">4</tspan></text>
<text x="425.90" y="258.00" font-size="5.6" text-anchor="middle" fill="#2a2a2a" font-weight="normal" font-family="Liberation Sans, sans-serif" stroke="#2a2a2a" stroke-width="0.2" >10<tspan font-size="3.6" dy="-2.0">5</tspan></text>
<text x="436.40" y="258.00" font-size="5.6" text-anchor="middle" fill="#2a2a2a" font-weight="normal" font-family="Liberation Sans, sans-serif" stroke="#2a2a2a" stroke-width="0.2" >10<tspan font-size="3.6" dy="-2.0">6</tspan></text>
<g transform="translate(409.50,269.8) scale(0.68,1)"><text x="0" y="0" font-size="8" text-anchor="middle" fill="#1a1a1a" stroke="#1a1a1a" stroke-width="0.25" font-family="Liberation Sans, sans-serif">CD11a</text></g>
<path d="M450.50,246.80 C450.75,246.33 451.50,245.80 452.00,244.00 C452.50,242.20 453.08,240.00 453.50,236.00 C453.92,232.00 454.20,226.00 454.50,220.00 C454.80,214.00 455.07,204.77 455.30,200.00 C455.53,195.23 455.68,191.73 455.90,191.40 C456.12,191.07 456.33,194.07 456.60,198.00 C456.87,201.93 457.18,209.67 457.50,215.00 C457.82,220.33 458.08,225.83 458.50,230.00 C458.92,234.17 459.42,237.50 460.00,240.00 C460.58,242.50 461.42,243.87 462.00,245.00 C462.58,246.13 463.25,246.50 463.50,246.80 Z" fill="#a3d5f3" stroke="#52ace0" stroke-width="0.8" stroke-linejoin="round"/>
<path d="M480.50,246.80 C480.83,246.17 481.83,245.13 482.50,243.00 C483.17,240.87 483.83,237.83 484.50,234.00 C485.17,230.17 485.83,225.00 486.50,220.00 C487.17,215.00 487.98,208.17 488.50,204.00 C489.02,199.83 489.30,197.17 489.60,195.00 C489.90,192.83 490.03,191.25 490.30,191.00 C490.57,190.75 490.83,191.67 491.20,193.50 C491.57,195.33 491.95,198.75 492.50,202.00 C493.05,205.25 493.75,209.00 494.50,213.00 C495.25,217.00 496.17,221.75 497.00,226.00 C497.83,230.25 498.72,235.03 499.50,238.50 C500.28,241.97 501.33,245.42 501.70,246.80 Z" fill="#e8877e" stroke="#bd3c42" stroke-width="0.8" stroke-linejoin="round"/>
<line x1="445.20" y1="187.30" x2="445.20" y2="246.80" stroke="#111" stroke-width="1.15"/>
<line x1="445.20" y1="246.80" x2="506.60" y2="246.80" stroke="#111" stroke-width="1.15"/>
<line x1="446.70" y1="246.80" x2="446.70" y2="248.10" stroke="#333" stroke-width="0.45"/>
<line x1="448.30" y1="246.80" x2="448.30" y2="248.10" stroke="#333" stroke-width="0.45"/>
<line x1="449.90" y1="246.80" x2="449.90" y2="248.10" stroke="#333" stroke-width="0.45"/>
<line x1="451.50" y1="246.80" x2="451.50" y2="248.10" stroke="#333" stroke-width="0.45"/>
<line x1="453.10" y1="246.80" x2="453.10" y2="248.10" stroke="#333" stroke-width="0.45"/>
<line x1="454.70" y1="246.80" x2="454.70" y2="248.10" stroke="#333" stroke-width="0.45"/>
<line x1="456.30" y1="246.80" x2="456.30" y2="248.10" stroke="#333" stroke-width="0.45"/>
<line x1="457.90" y1="246.80" x2="457.90" y2="248.10" stroke="#333" stroke-width="0.45"/>
<line x1="459.50" y1="246.80" x2="459.50" y2="248.10" stroke="#333" stroke-width="0.45"/>
<line x1="461.10" y1="246.80" x2="461.10" y2="248.10" stroke="#333" stroke-width="0.45"/>
<line x1="462.70" y1="246.80" x2="462.70" y2="248.10" stroke="#333" stroke-width="0.45"/>
<line x1="464.30" y1="246.80" x2="464.30" y2="248.10" stroke="#333" stroke-width="0.45"/>
<line x1="465.90" y1="246.80" x2="465.90" y2="248.10" stroke="#333" stroke-width="0.45"/>
<line x1="467.50" y1="246.80" x2="467.50" y2="248.10" stroke="#333" stroke-width="0.45"/>
<line x1="469.10" y1="246.80" x2="469.10" y2="248.10" stroke="#333" stroke-width="0.45"/>
<line x1="470.70" y1="246.80" x2="470.70" y2="248.10" stroke="#333" stroke-width="0.45"/>
<line x1="472.30" y1="246.80" x2="472.30" y2="248.10" stroke="#333" stroke-width="0.45"/>
<line x1="473.90" y1="246.80" x2="473.90" y2="248.10" stroke="#333" stroke-width="0.45"/>
<line x1="475.50" y1="246.80" x2="475.50" y2="248.10" stroke="#333" stroke-width="0.45"/>
<line x1="477.10" y1="246.80" x2="477.10" y2="248.10" stroke="#333" stroke-width="0.45"/>
<line x1="478.70" y1="246.80" x2="478.70" y2="248.10" stroke="#333" stroke-width="0.45"/>
<line x1="480.30" y1="246.80" x2="480.30" y2="248.10" stroke="#333" stroke-width="0.45"/>
<line x1="481.90" y1="246.80" x2="481.90" y2="248.10" stroke="#333" stroke-width="0.45"/>
<line x1="483.50" y1="246.80" x2="483.50" y2="248.10" stroke="#333" stroke-width="0.45"/>
<line x1="485.10" y1="246.80" x2="485.10" y2="248.10" stroke="#333" stroke-width="0.45"/>
<line x1="486.70" y1="246.80" x2="486.70" y2="248.10" stroke="#333" stroke-width="0.45"/>
<line x1="488.30" y1="246.80" x2="488.30" y2="248.10" stroke="#333" stroke-width="0.45"/>
<line x1="489.90" y1="246.80" x2="489.90" y2="248.10" stroke="#333" stroke-width="0.45"/>
<line x1="491.50" y1="246.80" x2="491.50" y2="248.10" stroke="#333" stroke-width="0.45"/>
<line x1="493.10" y1="246.80" x2="493.10" y2="248.10" stroke="#333" stroke-width="0.45"/>
<line x1="494.70" y1="246.80" x2="494.70" y2="248.10" stroke="#333" stroke-width="0.45"/>
<line x1="496.30" y1="246.80" x2="496.30" y2="248.10" stroke="#333" stroke-width="0.45"/>
<line x1="497.90" y1="246.80" x2="497.90" y2="248.10" stroke="#333" stroke-width="0.45"/>
<line x1="499.50" y1="246.80" x2="499.50" y2="248.10" stroke="#333" stroke-width="0.45"/>
<line x1="501.10" y1="246.80" x2="501.10" y2="248.10" stroke="#333" stroke-width="0.45"/>
<line x1="502.70" y1="246.80" x2="502.70" y2="248.10" stroke="#333" stroke-width="0.45"/>
<line x1="504.30" y1="246.80" x2="504.30" y2="248.10" stroke="#333" stroke-width="0.45"/>
<line x1="505.90" y1="246.80" x2="505.90" y2="248.10" stroke="#333" stroke-width="0.45"/>
<line x1="471.20" y1="201.20" x2="504.10" y2="201.20" stroke="#2a2a2a" stroke-width="0.9"/>
<line x1="471.20" y1="199.60" x2="471.20" y2="202.90" stroke="#2a2a2a" stroke-width="0.9"/>
<line x1="504.10" y1="199.60" x2="504.10" y2="202.90" stroke="#2a2a2a" stroke-width="0.9"/>
<text x="456.20" y="258.00" font-size="5.6" text-anchor="middle" fill="#2a2a2a" font-weight="normal" font-family="Liberation Sans, sans-serif" stroke="#2a2a2a" stroke-width="0.2" >0</text>
<text x="465.20" y="258.00" font-size="5.6" text-anchor="middle" fill="#2a2a2a" font-weight="normal" font-family="Liberation Sans, sans-serif" stroke="#2a2a2a" stroke-width="0.2" >10<tspan font-size="3.6" dy="-2.0">3</tspan></text>
<text x="479.00" y="258.00" font-size="5.6" text-anchor="middle" fill="#2a2a2a" font-weight="normal" font-family="Liberation Sans, sans-serif" stroke="#2a2a2a" stroke-width="0.2" >10<tspan font-size="3.6" dy="-2.0">4</tspan></text>
<text x="491.50" y="258.00" font-size="5.6" text-anchor="middle" fill="#2a2a2a" font-weight="normal" font-family="Liberation Sans, sans-serif" stroke="#2a2a2a" stroke-width="0.2" >10<tspan font-size="3.6" dy="-2.0">5</tspan></text>
<text x="504.00" y="258.00" font-size="5.6" text-anchor="middle" fill="#2a2a2a" font-weight="normal" font-family="Liberation Sans, sans-serif" stroke="#2a2a2a" stroke-width="0.2" >10<tspan font-size="3.6" dy="-2.0">6</tspan></text>
<g transform="translate(475.60,269.8) scale(0.68,1)"><text x="0" y="0" font-size="8" text-anchor="middle" fill="#1a1a1a" stroke="#1a1a1a" stroke-width="0.25" font-family="Liberation Sans, sans-serif">CD18</text></g>
<text x="61.50" y="305.80" font-size="6" text-anchor="middle" fill="#333" font-weight="normal" font-family="Liberation Sans, sans-serif" stroke="#333" stroke-width="0.2" >Gated on</text>
<text x="61.00" y="313.20" font-size="6.2" text-anchor="middle" fill="#333" font-weight="normal" font-family="Liberation Sans, sans-serif" stroke="#333" stroke-width="0.2" >CD3<tspan font-size="4.2" dy="-2.4">+</tspan><tspan dy="2.4">CD4</tspan><tspan font-size="4.2" dy="-2.4">&#8211;</tspan><tspan dy="2.4">CD8</tspan><tspan font-size="4.2" dy="-2.4">&#8211;</tspan><tspan dy="2.4"> cells</tspan></text>
<line x1="33.40" y1="344.90" x2="86.00" y2="344.90" stroke="#d65a5a" stroke-width="0.8"/>
<path d="M40.00,344.90 C40.50,344.67 42.17,344.65 43.00,343.50 C43.83,342.35 44.42,340.25 45.00,338.00 C45.58,335.75 46.00,332.67 46.50,330.00 C47.00,327.33 47.60,323.72 48.00,322.00 C48.40,320.28 48.60,319.70 48.90,319.70 C49.20,319.70 49.37,320.12 49.80,322.00 C50.23,323.88 50.97,328.33 51.50,331.00 C52.03,333.67 52.42,336.17 53.00,338.00 C53.58,339.83 54.17,341.00 55.00,342.00 C55.83,343.00 56.83,343.57 58.00,344.00 C59.17,344.43 61.00,344.45 62.00,344.60 C63.00,344.75 63.67,344.85 64.00,344.90 Z" fill="#e27d76" stroke="#d04a4a" stroke-width="0.7" stroke-linejoin="round"/>
<line x1="33.40" y1="372.20" x2="86.00" y2="372.20" stroke="#78c0e6" stroke-width="0.8"/>
<path d="M44.50,372.20 C44.83,371.83 46.00,371.70 46.50,370.00 C47.00,368.30 47.20,365.00 47.50,362.00 C47.80,359.00 48.05,354.45 48.30,352.00 C48.55,349.55 48.75,347.30 49.00,347.30 C49.25,347.30 49.53,349.55 49.80,352.00 C50.07,354.45 50.32,359.33 50.60,362.00 C50.88,364.67 51.02,366.58 51.50,368.00 C51.98,369.42 52.42,369.92 53.50,370.50 C54.58,371.08 56.25,371.25 58.00,371.50 C59.75,371.75 62.67,371.88 64.00,372.00 C65.33,372.12 65.67,372.17 66.00,372.20 Z" fill="#a3d5f2" stroke="#6bbde6" stroke-width="0.7" stroke-linejoin="round"/>
<path d="M46.00,399.20 C46.83,399.12 49.33,398.90 51.00,398.70 C52.67,398.50 54.58,398.37 56.00,398.00 C57.42,397.63 58.58,397.33 59.50,396.50 C60.42,395.67 60.87,394.92 61.50,393.00 C62.13,391.08 62.68,387.58 63.30,385.00 C63.92,382.42 64.60,379.23 65.20,377.50 C65.80,375.77 66.37,374.68 66.90,374.60 C67.43,374.52 67.92,375.10 68.40,377.00 C68.88,378.90 69.37,383.17 69.80,386.00 C70.23,388.83 70.60,392.00 71.00,394.00 C71.40,396.00 71.77,397.13 72.20,398.00 C72.63,398.87 73.37,399.00 73.60,399.20 Z" fill="#f9bf77" stroke="#f0a040" stroke-width="0.7" stroke-linejoin="round"/>
<line x1="33.40" y1="317.30" x2="33.40" y2="399.60" stroke="#1a1a1a" stroke-width="1.0"/>
<line x1="33.40" y1="399.20" x2="87.50" y2="399.20" stroke="#1a1a1a" stroke-width="1.0"/>
<line x1="35.00" y1="399.20" x2="35.00" y2="400.80" stroke="#333" stroke-width="0.45"/>
<line x1="36.60" y1="399.20" x2="36.60" y2="400.80" stroke="#333" stroke-width="0.45"/>
<line x1="38.20" y1="399.20" x2="38.20" y2="400.80" stroke="#333" stroke-width="0.45"/>
<line x1="39.80" y1="399.20" x2="39.80" y2="400.80" stroke="#333" stroke-width="0.45"/>
<line x1="41.40" y1="399.20" x2="41.40" y2="400.80" stroke="#333" stroke-width="0.45"/>
<line x1="43.00" y1="399.20" x2="43.00" y2="400.80" stroke="#333" stroke-width="0.45"/>
<line x1="44.60" y1="399.20" x2="44.60" y2="400.80" stroke="#333" stroke-width="0.45"/>
<line x1="46.20" y1="399.20" x2="46.20" y2="400.80" stroke="#333" stroke-width="0.45"/>
<line x1="47.80" y1="399.20" x2="47.80" y2="400.80" stroke="#333" stroke-width="0.45"/>
<line x1="49.40" y1="399.20" x2="49.40" y2="400.80" stroke="#333" stroke-width="0.45"/>
<line x1="51.00" y1="399.20" x2="51.00" y2="400.80" stroke="#333" stroke-width="0.45"/>
<line x1="52.60" y1="399.20" x2="52.60" y2="400.80" stroke="#333" stroke-width="0.45"/>
<line x1="54.20" y1="399.20" x2="54.20" y2="400.80" stroke="#333" stroke-width="0.45"/>
<line x1="55.80" y1="399.20" x2="55.80" y2="400.80" stroke="#333" stroke-width="0.45"/>
<line x1="57.40" y1="399.20" x2="57.40" y2="400.80" stroke="#333" stroke-width="0.45"/>
<line x1="59.00" y1="399.20" x2="59.00" y2="400.80" stroke="#333" stroke-width="0.45"/>
<line x1="60.60" y1="399.20" x2="60.60" y2="400.80" stroke="#333" stroke-width="0.45"/>
<line x1="62.20" y1="399.20" x2="62.20" y2="400.80" stroke="#333" stroke-width="0.45"/>
<line x1="63.80" y1="399.20" x2="63.80" y2="400.80" stroke="#333" stroke-width="0.45"/>
<line x1="65.40" y1="399.20" x2="65.40" y2="400.80" stroke="#333" stroke-width="0.45"/>
<line x1="67.00" y1="399.20" x2="67.00" y2="400.80" stroke="#333" stroke-width="0.45"/>
<line x1="68.60" y1="399.20" x2="68.60" y2="400.80" stroke="#333" stroke-width="0.45"/>
<line x1="70.20" y1="399.20" x2="70.20" y2="400.80" stroke="#333" stroke-width="0.45"/>
<line x1="71.80" y1="399.20" x2="71.80" y2="400.80" stroke="#333" stroke-width="0.45"/>
<line x1="73.40" y1="399.20" x2="73.40" y2="400.80" stroke="#333" stroke-width="0.45"/>
<line x1="75.00" y1="399.20" x2="75.00" y2="400.80" stroke="#333" stroke-width="0.45"/>
<line x1="76.60" y1="399.20" x2="76.60" y2="400.80" stroke="#333" stroke-width="0.45"/>
<line x1="78.20" y1="399.20" x2="78.20" y2="400.80" stroke="#333" stroke-width="0.45"/>
<line x1="79.80" y1="399.20" x2="79.80" y2="400.80" stroke="#333" stroke-width="0.45"/>
<line x1="81.40" y1="399.20" x2="81.40" y2="400.80" stroke="#333" stroke-width="0.45"/>
<line x1="83.00" y1="399.20" x2="83.00" y2="400.80" stroke="#333" stroke-width="0.45"/>
<line x1="84.60" y1="399.20" x2="84.60" y2="400.80" stroke="#333" stroke-width="0.45"/>
<line x1="86.20" y1="399.20" x2="86.20" y2="400.80" stroke="#333" stroke-width="0.45"/>
<text x="31.30" y="339.80" font-size="6.2" text-anchor="end" fill="#333" font-weight="normal" font-family="Liberation Sans, sans-serif" stroke="#333" stroke-width="0.2" >FMO</text>
<text x="31.30" y="364.90" font-size="6.2" text-anchor="end" fill="#333" font-weight="normal" font-family="Liberation Sans, sans-serif" stroke="#333" stroke-width="0.2" >CD18KO</text>
<text x="31.30" y="391.20" font-size="6.2" text-anchor="end" fill="#333" font-weight="normal" font-family="Liberation Sans, sans-serif" stroke="#333" stroke-width="0.2" >sgRND</text>
<text x="48.50" y="410.60" font-size="5.8" text-anchor="middle" fill="#333" font-weight="normal" font-family="Liberation Sans, sans-serif" stroke="#333" stroke-width="0.2" >0</text>
<text x="66.30" y="410.60" font-size="5.8" text-anchor="middle" fill="#333" font-weight="normal" font-family="Liberation Sans, sans-serif" stroke="#333" stroke-width="0.2" >10<tspan font-size="3.6" dy="-2.0">4</tspan></text>
<text x="75.70" y="410.60" font-size="5.8" text-anchor="middle" fill="#333" font-weight="normal" font-family="Liberation Sans, sans-serif" stroke="#333" stroke-width="0.2" >10<tspan font-size="3.6" dy="-2.0">5</tspan></text>
<text x="85.20" y="410.60" font-size="5.8" text-anchor="middle" fill="#333" font-weight="normal" font-family="Liberation Sans, sans-serif" stroke="#333" stroke-width="0.2" >10<tspan font-size="3.6" dy="-2.0">6</tspan></text>
<g transform="translate(61.5,422.0) scale(0.64,1)"><text x="0" y="0" font-size="7.6" text-anchor="middle" fill="#1a1a1a" stroke="#1a1a1a" stroke-width="0.25" font-family="Liberation Sans, sans-serif">CD18</text></g>
<line x1="139.60" y1="312.50" x2="139.60" y2="400.20" stroke="#333333" stroke-width="1.0"/>
<line x1="137.00" y1="400.20" x2="139.60" y2="400.20" stroke="#333333" stroke-width="1.0"/>
<text x="133.80" y="402.43" font-size="6.2" text-anchor="end" fill="#1e1e1e" font-weight="normal" font-family="Liberation Sans, sans-serif" stroke="#1e1e1e" stroke-width="0.2" >0</text>
<line x1="137.00" y1="371.75" x2="139.60" y2="371.75" stroke="#333333" stroke-width="1.0"/>
<text x="133.80" y="373.98" font-size="6.2" text-anchor="end" fill="#1e1e1e" font-weight="normal" font-family="Liberation Sans, sans-serif" stroke="#1e1e1e" stroke-width="0.2" >10</text>
<line x1="137.00" y1="343.30" x2="139.60" y2="343.30" stroke="#333333" stroke-width="1.0"/>
<text x="133.80" y="345.53" font-size="6.2" text-anchor="end" fill="#1e1e1e" font-weight="normal" font-family="Liberation Sans, sans-serif" stroke="#1e1e1e" stroke-width="0.2" >20</text>
<line x1="137.00" y1="314.85" x2="139.60" y2="314.85" stroke="#333333" stroke-width="1.0"/>
<text x="133.80" y="317.08" font-size="6.2" text-anchor="end" fill="#1e1e1e" font-weight="normal" font-family="Liberation Sans, sans-serif" stroke="#1e1e1e" stroke-width="0.2" >30</text>
<line x1="137.60" y1="399.70" x2="214.00" y2="399.70" stroke="#333333" stroke-width="1.05"/>
<line x1="157.10" y1="399.70" x2="157.10" y2="401.70" stroke="#333333" stroke-width="1.05"/>
<line x1="197.70" y1="399.70" x2="197.70" y2="401.70" stroke="#333333" stroke-width="1.05"/>
<rect x="148.05" y="345.59" width="8.60" height="54.61" fill="#38ab37" stroke="#2c8f2c" stroke-width="0.6"/>
<line x1="152.35" y1="345.29" x2="152.35" y2="343.30" stroke="#222" stroke-width="0.95"/>
<line x1="149.69" y1="343.30" x2="155.01" y2="343.30" stroke="#222" stroke-width="1.0"/>
<rect x="162.65" y="378.31" width="8.80" height="21.89" fill="#561b68" stroke="#431352" stroke-width="0.6"/>
<line x1="167.05" y1="378.01" x2="167.05" y2="375.16" stroke="#222" stroke-width="0.95"/>
<line x1="164.33" y1="375.16" x2="169.77" y2="375.16" stroke="#222" stroke-width="1.0"/>
<rect x="187.65" y="343.60" width="8.90" height="56.60" fill="#38ab37" stroke="#2c8f2c" stroke-width="0.6"/>
<line x1="192.10" y1="343.30" x2="192.10" y2="332.49" stroke="#222" stroke-width="0.95"/>
<line x1="189.36" y1="332.49" x2="194.84" y2="332.49" stroke="#222" stroke-width="1.0"/>
<line x1="152.10" y1="341.00" x2="167.70" y2="341.00" stroke="#2a2a2a" stroke-width="1.1"/>
<text x="159.90" y="341.70" font-size="6.4" text-anchor="middle" fill="#333" font-weight="normal" font-family="Liberation Sans, sans-serif" stroke="#333" stroke-width="0.2" >***</text>
<polyline points="192.20,328.90 207.80,328.90 207.80,397.50" fill="none" stroke="#2a2a2a" stroke-width="1.1"/>
<text x="200.00" y="329.60" font-size="6.4" text-anchor="middle" fill="#333" font-weight="normal" font-family="Liberation Sans, sans-serif" stroke="#333" stroke-width="0.2" >***</text>
<text x="157.80" y="410.40" font-size="6.0" text-anchor="middle" fill="#1e1e1e" font-weight="normal" font-family="Liberation Sans, sans-serif" stroke="#1e1e1e" stroke-width="0.2" >OCI-AML2</text>
<text x="197.70" y="410.40" font-size="6.0" text-anchor="middle" fill="#1e1e1e" font-weight="normal" font-family="Liberation Sans, sans-serif" stroke="#1e1e1e" stroke-width="0.2" >KG-1a</text>
<rect x="148.10" y="419.00" width="4.20" height="4.00" fill="#38ab37"/>
<text x="154.80" y="423.00" font-size="6" text-anchor="start" fill="#1e1e1e" font-weight="normal" font-family="Liberation Sans, sans-serif" stroke="#1e1e1e" stroke-width="0.2" >sgRND</text>
<rect x="179.70" y="419.00" width="4.20" height="4.00" fill="#561b68"/>
<text x="186.50" y="423.00" font-size="6" text-anchor="start" fill="#1e1e1e" font-weight="normal" font-family="Liberation Sans, sans-serif" stroke="#1e1e1e" stroke-width="0.2" >CD18KO</text>
<g transform="translate(108.50,358.00) rotate(-90) scale(1.0,1)"><text x="0" y="2.81" font-size="7.8" text-anchor="middle" fill="#1e1e1e" font-family="Liberation Sans, sans-serif" stroke="#1e1e1e" stroke-width="0.18" textLength="72" lengthAdjust="spacingAndGlyphs">% increase in specific killing</text></g>
<g transform="translate(119.20,358.00) rotate(-90) scale(1.0,1)"><text x="0" y="2.81" font-size="7.8" text-anchor="middle" fill="#1e1e1e" font-family="Liberation Sans, sans-serif" stroke="#1e1e1e" stroke-width="0.18" textLength="55.7" lengthAdjust="spacingAndGlyphs">after rTNF&#945; treatment</text></g>
<line x1="268.90" y1="324.60" x2="268.90" y2="399.80" stroke="#333333" stroke-width="1.0"/>
<line x1="266.30" y1="399.80" x2="268.90" y2="399.80" stroke="#333333" stroke-width="1.0"/>
<text x="263.10" y="402.03" font-size="6.2" text-anchor="end" fill="#1e1e1e" font-weight="normal" font-family="Liberation Sans, sans-serif" stroke="#1e1e1e" stroke-width="0.2" >0</text>
<line x1="266.30" y1="385.15" x2="268.90" y2="385.15" stroke="#333333" stroke-width="1.0"/>
<text x="263.10" y="387.38" font-size="6.2" text-anchor="end" fill="#1e1e1e" font-weight="normal" font-family="Liberation Sans, sans-serif" stroke="#1e1e1e" stroke-width="0.2" >5</text>
<line x1="266.30" y1="370.50" x2="268.90" y2="370.50" stroke="#333333" stroke-width="1.0"/>
<text x="263.10" y="372.73" font-size="6.2" text-anchor="end" fill="#1e1e1e" font-weight="normal" font-family="Liberation Sans, sans-serif" stroke="#1e1e1e" stroke-width="0.2" >10</text>
<line x1="266.30" y1="355.85" x2="268.90" y2="355.85" stroke="#333333" stroke-width="1.0"/>
<text x="263.10" y="358.08" font-size="6.2" text-anchor="end" fill="#1e1e1e" font-weight="normal" font-family="Liberation Sans, sans-serif" stroke="#1e1e1e" stroke-width="0.2" >15</text>
<line x1="266.30" y1="341.20" x2="268.90" y2="341.20" stroke="#333333" stroke-width="1.0"/>
<text x="263.10" y="343.43" font-size="6.2" text-anchor="end" fill="#1e1e1e" font-weight="normal" font-family="Liberation Sans, sans-serif" stroke="#1e1e1e" stroke-width="0.2" >20</text>
<line x1="266.30" y1="326.55" x2="268.90" y2="326.55" stroke="#333333" stroke-width="1.0"/>
<text x="263.10" y="328.78" font-size="6.2" text-anchor="end" fill="#1e1e1e" font-weight="normal" font-family="Liberation Sans, sans-serif" stroke="#1e1e1e" stroke-width="0.2" >25</text>
<line x1="267.10" y1="399.80" x2="311.50" y2="399.80" stroke="#333333" stroke-width="1.05"/>
<line x1="286.50" y1="399.80" x2="286.50" y2="401.80" stroke="#333333" stroke-width="1.05"/>
<rect x="271.95" y="335.64" width="13.80" height="64.16" fill="#174b8a" stroke="#123d70" stroke-width="0.6"/>
<line x1="278.85" y1="335.34" x2="278.85" y2="333.88" stroke="#222" stroke-width="0.95"/>
<line x1="274.73" y1="333.88" x2="282.97" y2="333.88" stroke="#222" stroke-width="1.0"/>
<rect x="293.65" y="395.41" width="12.40" height="4.39" fill="#f39200" stroke="#d67f00" stroke-width="0.6"/>
<line x1="299.85" y1="395.11" x2="299.85" y2="394.53" stroke="#222" stroke-width="0.95"/>
<line x1="296.13" y1="394.53" x2="303.57" y2="394.53" stroke="#222" stroke-width="1.0"/>
<line x1="278.90" y1="330.10" x2="299.40" y2="330.10" stroke="#2a2a2a" stroke-width="1.1"/>
<text x="289.15" y="330.80" font-size="6.4" text-anchor="middle" fill="#333" font-weight="normal" font-family="Liberation Sans, sans-serif" stroke="#333" stroke-width="0.2" >***</text>
<rect x="273.10" y="407.00" width="4.50" height="4.00" fill="#174b8a"/>
<text x="279.60" y="411.20" font-size="6" text-anchor="start" fill="#1e1e1e" font-weight="normal" font-family="Liberation Sans, sans-serif" stroke="#1e1e1e" stroke-width="0.2" >IgG1</text>
<rect x="273.10" y="415.90" width="4.50" height="4.00" fill="#f39200"/>
<text x="279.60" y="420.00" font-size="6" text-anchor="start" fill="#1e1e1e" font-weight="normal" font-family="Liberation Sans, sans-serif" stroke="#1e1e1e" stroke-width="0.2" >anti-CD18</text>
<g transform="translate(237.70,362.20) rotate(-90) scale(1.0,1)"><text x="0" y="2.74" font-size="7.6" text-anchor="middle" fill="#1e1e1e" font-family="Liberation Sans, sans-serif" stroke="#1e1e1e" stroke-width="0.18" textLength="69" lengthAdjust="spacingAndGlyphs">% increase in specific killing</text></g>
<g transform="translate(248.30,361.20) rotate(-90) scale(1.0,1)"><text x="0" y="2.66" font-size="7.4" text-anchor="middle" fill="#1e1e1e" font-family="Liberation Sans, sans-serif" stroke="#1e1e1e" stroke-width="0.18" textLength="55.7" lengthAdjust="spacingAndGlyphs">after rTNF&#945; treatment</text></g>
<line x1="359.60" y1="308.00" x2="359.60" y2="400.00" stroke="#333333" stroke-width="1.0"/>
<line x1="357.00" y1="400.00" x2="359.60" y2="400.00" stroke="#333333" stroke-width="1.0"/>
<text x="353.80" y="402.23" font-size="6.2" text-anchor="end" fill="#1e1e1e" font-weight="normal" font-family="Liberation Sans, sans-serif" stroke="#1e1e1e" stroke-width="0.2" >0</text>
<line x1="357.00" y1="369.90" x2="359.60" y2="369.90" stroke="#333333" stroke-width="1.0"/>
<text x="353.80" y="372.13" font-size="6.2" text-anchor="end" fill="#1e1e1e" font-weight="normal" font-family="Liberation Sans, sans-serif" stroke="#1e1e1e" stroke-width="0.2" >5</text>
<line x1="357.00" y1="339.80" x2="359.60" y2="339.80" stroke="#333333" stroke-width="1.0"/>
<text x="353.80" y="342.03" font-size="6.2" text-anchor="end" fill="#1e1e1e" font-weight="normal" font-family="Liberation Sans, sans-serif" stroke="#1e1e1e" stroke-width="0.2" >10</text>
<line x1="357.00" y1="309.70" x2="359.60" y2="309.70" stroke="#333333" stroke-width="1.0"/>
<text x="353.80" y="311.93" font-size="6.2" text-anchor="end" fill="#1e1e1e" font-weight="normal" font-family="Liberation Sans, sans-serif" stroke="#1e1e1e" stroke-width="0.2" >15</text>
<line x1="358.00" y1="399.40" x2="512.80" y2="399.40" stroke="#333333" stroke-width="1.05"/>
<line x1="379.00" y1="399.40" x2="379.00" y2="401.40" stroke="#333333" stroke-width="1.05"/>
<line x1="417.00" y1="399.40" x2="417.00" y2="401.40" stroke="#333333" stroke-width="1.05"/>
<line x1="455.50" y1="399.40" x2="455.50" y2="401.40" stroke="#333333" stroke-width="1.05"/>
<line x1="494.00" y1="399.40" x2="494.00" y2="401.40" stroke="#333333" stroke-width="1.05"/>
<rect x="368.05" y="328.06" width="7.90" height="71.94" fill="#174b8a" stroke="#123d70" stroke-width="0.6"/>
<line x1="372.00" y1="327.76" x2="372.00" y2="313.31" stroke="#222" stroke-width="0.95"/>
<line x1="369.54" y1="313.31" x2="374.46" y2="313.31" stroke="#222" stroke-width="1.0"/>
<rect x="381.85" y="346.12" width="8.40" height="53.88" fill="#f39200" stroke="#d67f00" stroke-width="0.6"/>
<line x1="386.05" y1="345.82" x2="386.05" y2="341.61" stroke="#222" stroke-width="0.95"/>
<line x1="383.45" y1="341.61" x2="388.65" y2="341.61" stroke="#222" stroke-width="1.0"/>
<rect x="405.65" y="372.31" width="8.60" height="27.69" fill="#174b8a" stroke="#123d70" stroke-width="0.6"/>
<line x1="409.95" y1="372.01" x2="409.95" y2="368.70" stroke="#222" stroke-width="0.95"/>
<line x1="407.29" y1="368.70" x2="412.61" y2="368.70" stroke="#222" stroke-width="1.0"/>
<rect x="444.35" y="368.39" width="7.90" height="31.61" fill="#174b8a" stroke="#123d70" stroke-width="0.6"/>
<line x1="448.30" y1="368.09" x2="448.30" y2="359.06" stroke="#222" stroke-width="0.95"/>
<line x1="445.84" y1="359.06" x2="450.76" y2="359.06" stroke="#222" stroke-width="1.0"/>
<rect x="458.65" y="394.28" width="8.10" height="5.72" fill="#f39200" stroke="#d67f00" stroke-width="0.6"/>
<line x1="462.70" y1="393.98" x2="462.70" y2="388.56" stroke="#222" stroke-width="0.95"/>
<line x1="460.18" y1="388.56" x2="465.22" y2="388.56" stroke="#222" stroke-width="1.0"/>
<rect x="482.65" y="345.52" width="8.40" height="54.48" fill="#174b8a" stroke="#123d70" stroke-width="0.6"/>
<line x1="486.85" y1="345.22" x2="486.85" y2="335.59" stroke="#222" stroke-width="0.95"/>
<line x1="484.25" y1="335.59" x2="489.45" y2="335.59" stroke="#222" stroke-width="1.0"/>
<rect x="496.95" y="364.18" width="8.40" height="35.82" fill="#f39200" stroke="#d67f00" stroke-width="0.6"/>
<line x1="501.15" y1="363.88" x2="501.15" y2="354.25" stroke="#222" stroke-width="0.95"/>
<line x1="498.55" y1="354.25" x2="503.75" y2="354.25" stroke="#222" stroke-width="1.0"/>
<line x1="372.60" y1="310.80" x2="387.20" y2="310.80" stroke="#2a2a2a" stroke-width="1.1"/>
<text x="379.90" y="309.10" font-size="5.9" text-anchor="middle" fill="#444" font-weight="normal" font-family="Liberation Sans, sans-serif" stroke="#444" stroke-width="0.2" >ns</text>
<polyline points="409.70,365.70 424.70,365.70 424.70,398.50" fill="none" stroke="#2a2a2a" stroke-width="1.1"/>
<text x="417.20" y="366.40" font-size="6.4" text-anchor="middle" fill="#333" font-weight="normal" font-family="Liberation Sans, sans-serif" stroke="#333" stroke-width="0.2" >***</text>
<line x1="448.10" y1="356.30" x2="463.20" y2="356.30" stroke="#2a2a2a" stroke-width="1.1"/>
<text x="455.65" y="357.00" font-size="6.4" text-anchor="middle" fill="#333" font-weight="normal" font-family="Liberation Sans, sans-serif" stroke="#333" stroke-width="0.2" >**</text>
<line x1="486.50" y1="335.00" x2="502.30" y2="335.00" stroke="#2a2a2a" stroke-width="1.1"/>
<text x="494.40" y="335.70" font-size="6.4" text-anchor="middle" fill="#333" font-weight="normal" font-family="Liberation Sans, sans-serif" stroke="#333" stroke-width="0.2" >*</text>
<text x="378.50" y="410.20" font-size="6.2" text-anchor="middle" fill="#1e1e1e" font-weight="normal" font-family="Liberation Sans, sans-serif" stroke="#1e1e1e" stroke-width="0.2" >100356</text>
<text x="417.00" y="410.20" font-size="6.2" text-anchor="middle" fill="#1e1e1e" font-weight="normal" font-family="Liberation Sans, sans-serif" stroke="#1e1e1e" stroke-width="0.2" >150549</text>
<text x="455.70" y="410.20" font-size="6.2" text-anchor="middle" fill="#1e1e1e" font-weight="normal" font-family="Liberation Sans, sans-serif" stroke="#1e1e1e" stroke-width="0.2" >100753</text>
<text x="494.70" y="410.20" font-size="6.2" text-anchor="middle" fill="#1e1e1e" font-weight="normal" font-family="Liberation Sans, sans-serif" stroke="#1e1e1e" stroke-width="0.2" >130794</text>
<rect x="407.00" y="419.00" width="4.30" height="4.00" fill="#174b8a"/>
<text x="413.80" y="423.00" font-size="6" text-anchor="start" fill="#1e1e1e" font-weight="normal" font-family="Liberation Sans, sans-serif" stroke="#1e1e1e" stroke-width="0.2" >IgG1</text>
<rect x="433.90" y="419.00" width="4.30" height="4.00" fill="#f39200"/>
<text x="440.30" y="423.00" font-size="6" text-anchor="start" fill="#1e1e1e" font-weight="normal" font-family="Liberation Sans, sans-serif" stroke="#1e1e1e" stroke-width="0.2" >anti-CD18</text>
<g transform="translate(328.30,355.60) rotate(-90) scale(1.0,1)"><text x="0" y="2.74" font-size="7.6" text-anchor="middle" fill="#1e1e1e" font-family="Liberation Sans, sans-serif" stroke="#1e1e1e" stroke-width="0.18" textLength="72" lengthAdjust="spacingAndGlyphs">% increase in specific killing</text></g>
<g transform="translate(339.90,356.50) rotate(-90) scale(1.0,1)"><text x="0" y="2.74" font-size="7.6" text-anchor="middle" fill="#1e1e1e" font-family="Liberation Sans, sans-serif" stroke="#1e1e1e" stroke-width="0.18" textLength="59" lengthAdjust="spacingAndGlyphs">after rTNF&#945; treatment</text></g>
<rect x="0.5" y="0.5" width="519" height="430" fill="none" stroke="#6c6c6c" stroke-width="1"/>
</svg></body></html>
